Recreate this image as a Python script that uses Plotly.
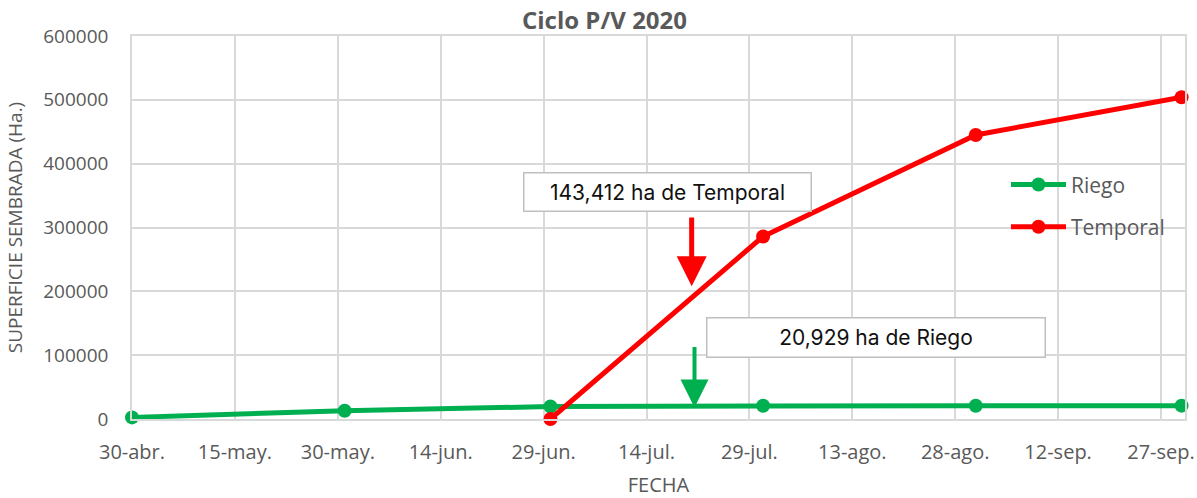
import plotly.graph_objects as go
import pandas as pd

# Data
fechas = ["2020-04-30", "2020-05-31", "2020-06-30", "2020-07-31", "2020-08-31", "2020-09-30"]
riego = [2500, 13000, 19500, 20700, 20850, 20929]
fechas_temporal = ["2020-06-30", "2020-07-31", "2020-08-31", "2020-09-30"]
temporal = [0, 286000, 445000, 504000]

tick_start = "2020-04-30"
tick_labels = ["30-abr.", "15-may.", "30-may.", "14-jun.", "29-jun.", "14-jul.",
               "29-jul.", "13-ago.", "28-ago.", "12-sep.", "27-sep."]
tick_vals = pd.date_range(tick_start, periods=len(tick_labels), freq="15D")

GREEN = "#00B050"
RED = "#FF0000"
GRAY = "#595959"
GRID = "#D9D9D9"
FONT = "Open Sans"

fig = go.Figure()
fig.add_trace(go.Scatter(
    x=fechas, y=riego, name="Riego", mode="lines+markers",
    line=dict(color=GREEN, width=5), marker=dict(size=14, color=GREEN),
    legendgroup="a", cliponaxis=False))
fig.add_trace(go.Scatter(
    x=fechas_temporal, y=temporal, name="Temporal", mode="lines+markers",
    line=dict(color=RED, width=5), marker=dict(size=14, color=RED),
    legendgroup="b", cliponaxis=False))

# Arrows
fig.add_annotation(x="2020-07-20 14:00", y=208000, ax="2020-07-20 14:00", ay=318000,
                   xref="x", yref="y", axref="x", ayref="y", text="",
                   showarrow=True, arrowhead=2, arrowsize=1.2, arrowwidth=5,
                   arrowcolor=RED)
fig.add_annotation(x="2020-07-21", y=18000, ax="2020-07-21", ay=115000,
                   xref="x", yref="y", axref="x", ayref="y", text="",
                   showarrow=True, arrowhead=2, arrowsize=1.4, arrowwidth=4,
                   arrowcolor=GREEN)
# Text boxes
fig.add_annotation(x="2020-07-17", y=355000, xref="x", yref="y",
                   text="143,412 ha de Temporal", showarrow=False,
                   font=dict(family="Inter", size=21, color="#111111"),
                   bgcolor="white", bordercolor="#BFBFBF", borderwidth=1.5,
                   width=284, height=35)
fig.add_annotation(x="2020-08-16 10:00", y=127000, xref="x", yref="y",
                   text="20,929 ha de Riego", showarrow=False,
                   font=dict(family="Inter", size=21, color="#111111"),
                   bgcolor="white", bordercolor="#BFBFBF", borderwidth=1.5,
                   width=335, height=36)

fig.update_layout(
    width=1197, height=498,
    margin=dict(l=132, r=12, t=36, b=79, autoexpand=False),
    paper_bgcolor="white", plot_bgcolor="white",
    font=dict(family=FONT, color=GRAY, size=19),
    title=dict(text="<b>Ciclo P/V 2020</b>", x=0.505, xanchor="center",
               y=1 - 21 / 498, yref="container", yanchor="middle",
               font=dict(family=FONT, size=24, color=GRAY)),
    legend=dict(x=0.83, y=0.665, xanchor="left", yanchor="top",
                bgcolor="rgba(0,0,0,0)", font=dict(size=21, color=GRAY),
                tracegroupgap=12, itemwidth=55),
    showlegend=True,
)
fig.update_xaxes(
    type="date", range=["2020-04-30", "2020-09-30 12:00"],
    tickvals=tick_vals, ticktext=tick_labels,
    showgrid=True, gridcolor=GRID, gridwidth=1.5,
    showline=True, linecolor=GRID, linewidth=1.5, mirror=True,
    ticks="", ticklabelstandoff=14, automargin=False,
    title=dict(text="FECHA", font=dict(size=20, color=GRAY), standoff=22),
    tickfont=dict(size=20, color=GRAY),
)
fig.update_yaxes(
    range=[0, 600000], dtick=100000, tickformat="d",
    showgrid=True, gridcolor=GRID, gridwidth=1.5,
    showline=True, linecolor=GRID, linewidth=1.5, mirror=True,
    zeroline=False, ticks="", ticklabelstandoff=18, automargin=False,
    title=dict(text="SUPERFICIE SEMBRADA (Ha.)", font=dict(size=19, color=GRAY), standoff=16),
    tickfont=dict(size=19, color=GRAY),
)

fig.write_html("out.html", config={"displayModeBar": False},
               post_script="document.body.style.margin='0';")
